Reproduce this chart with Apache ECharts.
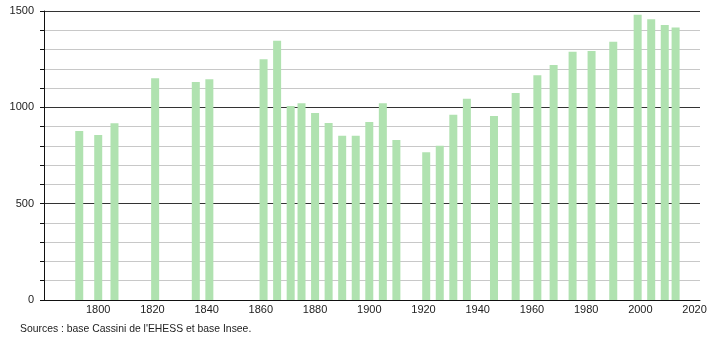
<!DOCTYPE html>
<html>
<head>
<meta charset="utf-8">
<script src="https://cdn.jsdelivr.net/npm/echarts@6/dist/echarts.min.js"></script>
<style>
html,body{margin:0;padding:0;background:#fff;}
#c{width:710px;height:340px;}
</style>
</head>
<body>
<div id="c"></div>
<script>
var years = [1793, 1800, 1806, 1821, 1836, 1841, 1861, 1866, 1871, 1875, 1880, 1885, 1890, 1895, 1900, 1905, 1910, 1921, 1926, 1931, 1936, 1946, 1954, 1962, 1968, 1975, 1982, 1990, 1999, 2004, 2009, 2013];
var population = [877, 857, 917, 1151, 1132, 1146, 1250, 1345, 1007, 1021, 971, 919, 853, 853, 924, 1021, 831, 767, 800, 961, 1044, 955, 1075, 1167, 1220, 1288, 1293, 1340, 1480, 1457, 1427, 1414];
var xTickLabels = [1800, 1820, 1840, 1860, 1880, 1900, 1920, 1940, 1960, 1980, 2000, 2020];
var yTickLabels = [0, 500, 1000, 1500];
var sourceText = "Sources : base Cassini de l'EHESS et base Insee.";

var chart = echarts.init(document.getElementById('c'), null, {renderer: 'canvas'});
var font = 'Liberation Sans, Arial, sans-serif';
var data = years.map(function (y, i) { return [y, population[i]]; });

chart.setOption({
  animation: false,
  backgroundColor: '#fff',
  grid: {left: 44, right: 10, top: 11, bottom: 40, containLabel: false},
  xAxis: {
    type: 'value', min: 1780, max: 2022, interval: 20,
    axisLine: {show: true, lineStyle: {color: '#111', width: 1}},
    axisTick: {show: false},
    splitLine: {show: false},
    axisLabel: {
      margin: 4, color: '#222', fontSize: 11, fontFamily: font,
      showMinLabel: true, showMaxLabel: true,
      formatter: function (v) { return xTickLabels.indexOf(v) >= 0 ? String(v) : ''; }
    }
  },
  yAxis: {
    type: 'value', min: 0, max: 1500, interval: 100,
    axisLine: {show: true, lineStyle: {color: '#111', width: 1}},
    axisTick: {show: true, length: 4, lineStyle: {color: '#111'}},
    splitLine: {show: true, lineStyle: {color: ['#333', '#c8c8c8', '#c8c8c8', '#c8c8c8', '#c8c8c8'], width: 1}},
    axisLabel: {
      margin: 10, color: '#222', fontSize: 11, fontFamily: font,
      formatter: function (v) { return yTickLabels.indexOf(v) >= 0 ? String(v) : ''; }
    }
  },
  graphic: [{
    type: 'text', left: 20, top: 324,
    style: {text: sourceText, fill: '#222', font: '10.4px ' + font}
  }],
  series: [{
    type: 'bar', data: data, barWidth: 8,
    itemStyle: {color: '#b0e2b0'}
  }]
});
</script>
</body>
</html>
